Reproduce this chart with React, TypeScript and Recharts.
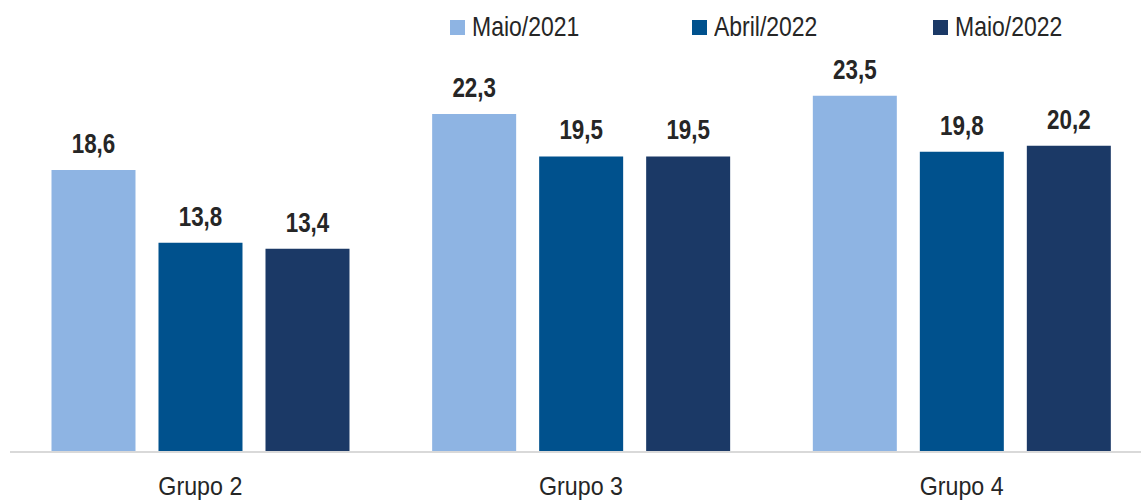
import React from "react";
import { BarChart, Bar, XAxis, YAxis, LabelList } from "recharts";

const grupos = ["Grupo 2", "Grupo 3", "Grupo 4"];
const maio2021 = [18.6, 22.3, 23.5];
const abril2022 = [13.8, 19.5, 19.8];
const maio2022 = [13.4, 19.5, 20.2];

const series = [
  { key: "maio2021", name: "Maio/2021", color: "#8EB4E3" },
  { key: "abril2022", name: "Abril/2022", color: "#00518D" },
  { key: "maio2022", name: "Maio/2022", color: "#1B3966" },
];

const data = grupos.map((g, i) => ({
  grupo: g,
  maio2021: maio2021[i],
  abril2022: abril2022[i],
  maio2022: maio2022[i],
}));

const FONT = '"Liberation Sans", Arial, sans-serif';
const TEXT = "#262626";

const fmt = (v: any) => (typeof v === "number" ? v.toFixed(1).replace(".", ",") : v);

// narrow-looking text: scale Liberation Sans horizontally
const GroupTick = (props: any) => {
  const { x, y, payload } = props;
  return (
    <text
      transform={`translate(${x},${y}) scale(0.93,1)`}
      textAnchor="middle"
      dy={37}
      fontFamily={FONT}
      fontSize={25}
      fill={TEXT}
    >
      {payload.value}
    </text>
  );
};

const ValueLabel = (props: any) => {
  const { x, y, width, value } = props;
  return (
    <text
      transform={`translate(${x + width / 2},${y - 17}) scale(0.8,1)`}
      textAnchor="middle"
      fontFamily={FONT}
      fontSize={28}
      fontWeight={700}
      fill={TEXT}
    >
      {fmt(value)}
    </text>
  );
};

function LegendBox() {
  return (
    <div
      style={{
        position: "absolute",
        top: 13,
        left: 450,
        display: "flex",
        fontFamily: FONT,
        fontSize: 28,
        lineHeight: "28px",
        color: TEXT,
        zIndex: 2,
      }}
    >
      {series.map((s) => (
        <div key={s.key} style={{ position: "relative", width: 241.5, height: 28 }}>
          <span style={{ position: "absolute", left: 0, top: 7, width: 15, height: 15, background: s.color }} />
          <span
            style={{
              position: "absolute",
              left: 22,
              top: 0,
              whiteSpace: "nowrap",
              transform: "scaleX(0.82)",
              transformOrigin: "left center",
            }}
          >
            {s.name}
          </span>
        </div>
      ))}
    </div>
  );
}

export default function App() {
  return (
    <div style={{ position: "absolute", top: 0, left: 0, width: 1141, height: 502, overflow: "hidden", background: "#fff" }}>
      <LegendBox />
      <BarChart
        width={1160}
        height={502}
        data={data}
        margin={{ top: 73, right: 8, left: 10, bottom: 0 }}
        barCategoryGap="10.9%"
        barGap={23}
      >
        <XAxis
          dataKey="grupo"
          height={50}
          tickLine={false}
          axisLine={{ stroke: "#d9d9d9", strokeWidth: 2 }}
          tickMargin={0}
          tick={<GroupTick />}
        />
        <YAxis hide domain={[0, 25]} />
        {series.map((s) => (
          <Bar key={s.key} dataKey={s.key} name={s.name} fill={s.color} isAnimationActive={false}>
            <LabelList dataKey={s.key} content={<ValueLabel />} />
          </Bar>
        ))}
      </BarChart>
    </div>
  );
}
